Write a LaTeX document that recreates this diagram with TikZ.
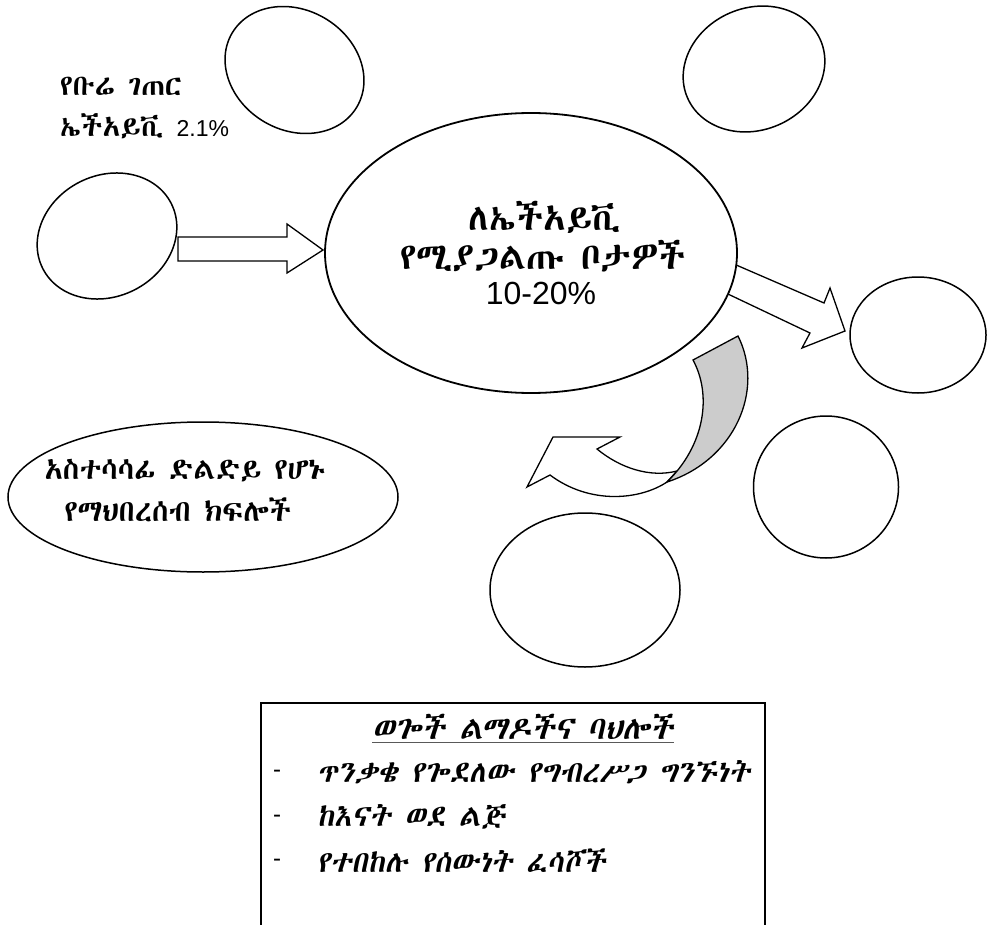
\documentclass[tikz,border=0pt]{standalone}
\usepackage{fontspec}
\setmainfont{Liberation Sans}
\newfontfamily\lat{Liberation Sans}
\newcommand\setethfont[1]{\newfontfamily\eth{#1}\newfontfamily\ethsl[FakeSlant=0.18]{#1}}
\IfFontExistsTF{Abyssinica SIL}{\setethfont{Abyssinica SIL}}{%
  \IfFontExistsTF{FreeSerif}{\setethfont{FreeSerif}}{%
    \IfFontExistsTF{FreeSans}{\setethfont{FreeSans}}{%
      \IfFontExistsTF{Unifont}{\setethfont{Unifont}}{\setethfont{DejaVu Sans}}}}}
\usetikzlibrary{shapes.geometric}
\begin{document}
\begin{tikzpicture}[x=1pt,y=-1pt,
  ell/.style={ellipse,draw=black,line width=1.5pt,fill=white,inner sep=0pt},
  blk/.style={draw=black,line width=1.3pt,fill=white,line join=miter},
  txt/.style={inner sep=0pt,align=center},
  ethA/.style={font=\eth\fontsize{29}{34}\selectfont},
  ethB/.style={font=\eth\fontsize{37}{42}\selectfont},
  ethC/.style={font=\eth\fontsize{30}{36}\selectfont},
  ethD/.style={font=\ethsl\fontsize{30}{36}\selectfont},
  ethT/.style={font=\ethsl\fontsize{32}{38}\selectfont},
  dashtxt/.style={font=\lat\fontsize{24}{28}\selectfont},
]
\useasboundingbox (0,0) rectangle (987,925);
% block arrows
\draw[blk] (178,237) -- (287,237) -- (287,224) -- (323,250) -- (287,273) -- (287,261) -- (178,261) -- cycle;
\draw[blk] (720,258) -- (824,303) -- (830,288) -- (845,331) -- (802,348) -- (810,333) -- (710,285.5) -- cycle;
% curved arrow
\draw[blk] (527,487) -- (553,437) -- (620,437) -- (597,449) .. controls (620,468) and (650,478) .. (677,471) -- (667,482) .. controls (640,500) and (590,505) .. (550,475) -- cycle;
\draw[blk,fill=black!20] (693,360) -- (738,336) .. controls (765,390) and (735,460) .. (667,482) .. controls (705,445) and (712,395) .. (693,360) -- cycle;
% ellipses
\node[ell,line width=1.8pt,minimum width=412pt,minimum height=280pt] (hub) at (531,253) {};
\node[ell,minimum width=145pt,minimum height=120pt,rotate=-30.7] (topl) at (294.5,70) {};
\node[ell,minimum width=145pt,minimum height=122pt,rotate=23.3] (topr) at (754,69) {};
\node[ell,minimum width=144pt,minimum height=121pt,rotate=26.8] (left) at (107,236) {};
\node[ell,minimum width=136pt,minimum height=116pt] (right) at (918,335) {};
\node[ell,minimum width=145pt,minimum height=142pt] (brc) at (826,487) {};
\node[ell,minimum width=190pt,minimum height=154pt] (bc) at (585,590) {};
\node[ell,minimum width=390pt,minimum height=150pt] (bridge) at (203,497) {};
% texts
\node[txt,ethA,anchor=west] (t1) at (60,86) {የቡሬ ገጠር};
\node[txt,ethA,anchor=west] (t2) at (60,126) {ኤችአይቪ {\lat\fontsize{23}{27}\selectfont 2.1\%}};
\node[txt,ethB] (h1) at (545,217) {ለኤችአይቪ};
\node[txt,ethB] (h2) at (543,256) {የሚያጋልጡ ቦታዎች};
\node[txt,font=\lat\fontsize{32}{37}\selectfont] (h3) at (541,293) {10-20\%};
\node[txt,ethC] (b1) at (185,471) {አስተሳሳፊ ድልድይ የሆኑ};
\node[txt,ethC] (b2) at (178,510) {የማህበረሰብ ክፍሎች};
% box
\draw[line width=2pt] (261,925) -- (261,703) -- (765,703) -- (765,925);
\node[txt,ethT] (title) at (523,727) {ወጐች ልማዶችና ባህሎች};
\draw[line width=1pt,black!65] ([yshift=-3pt]title.south west) -- ([yshift=-3pt]title.south east);
\node[txt,dashtxt] (d1) at (277,774) {-};
\node[txt,dashtxt] (d2) at (277,819) {-};
\node[txt,dashtxt] (d3) at (277,863) {-};
\node[txt,ethD,anchor=west] (i1) at (317,772) {ጥንቃቄ የጐደለው የግብረሥጋ ግንኙነት};
\node[txt,ethD,anchor=west] (i2) at (317,817) {ከእናት ወደ ልጅ};
\node[txt,ethD,anchor=west] (i3) at (317,861) {የተበከሉ የሰውነት ፈሳሾች};
\end{tikzpicture}
\end{document}
